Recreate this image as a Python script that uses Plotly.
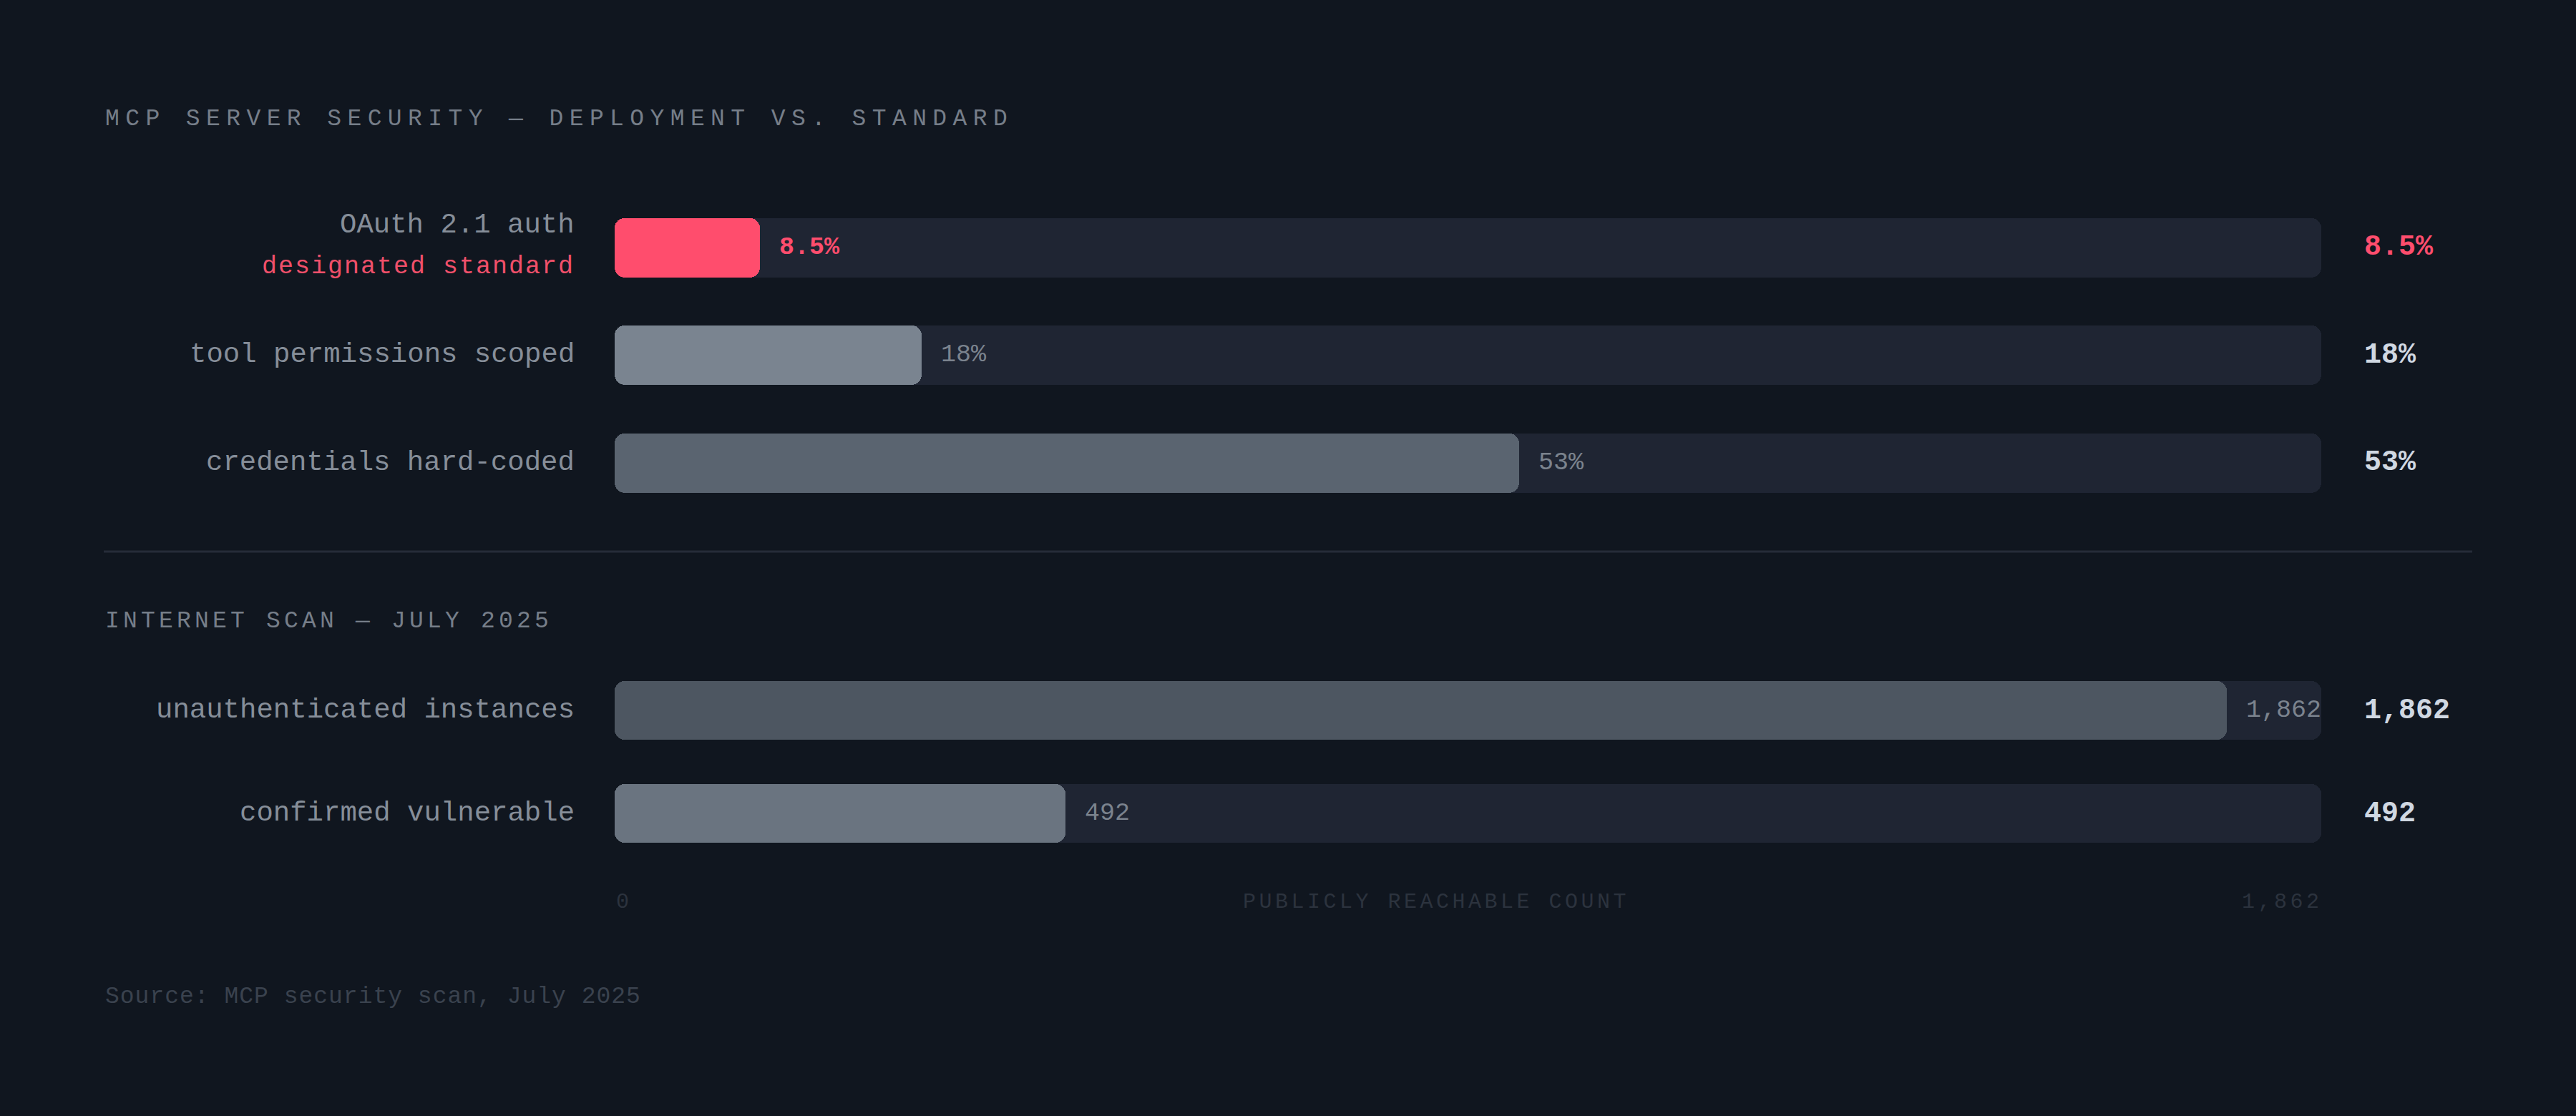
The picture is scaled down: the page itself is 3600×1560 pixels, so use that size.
import plotly.graph_objects as go

# --- data ---------------------------------------------------------------
pct_labels = ["OAuth 2.1 auth", "tool permissions scoped", "credentials hard-coded"]
pct_values = [8.5, 18, 53]
pct_text = ["8.5%", "18%", "53%"]

scan_labels = ["unauthenticated instances", "confirmed vulnerable"]
scan_values = [1862, 492]
scan_text = ["1,862", "492"]

PCT_MAX = 100
COUNT_MAX = 1862

# --- style --------------------------------------------------------------
W, H = 3600, 1560
BG = "#10161f"
TRACK = "#1f2533"
RED = "#ff4d6d"
FONT = "Liberation Mono, DejaVu Sans Mono, monospace"
pct_colors = [RED, "#7a8490", "#5a6470"]
scan_colors = ["#4d5661", "#6a7480"]

TRACK_X0, TRACK_X1 = 859, 3244  # px
LABEL_ROOM = 132  # px kept free at the track end for the in-bar label
LABEL_X = 805


def px(x):
    return x / W


def py(y):
    return 1 - y / H


def spaced(text, sp):
    return f'<span style="letter-spacing:{sp}px">{text}</span>'


fig = go.Figure()


def add_group(labels, values, colors, vmax, xa, ya, width):
    track_px = TRACK_X1 - TRACK_X0
    cap = vmax - LABEL_ROOM * vmax / track_px
    shown = [min(v, cap) for v in values]
    common = dict(y=labels, orientation="h", width=width, xaxis=xa, yaxis=ya,
                  base=0, hoverinfo="skip", showlegend=False)
    # an explicit base makes plotly round both ends of the bar
    fig.add_bar(x=[vmax] * len(labels),
                marker=dict(color=TRACK, cornerradius=14, line_width=0), **common)
    fig.add_bar(x=shown, marker=dict(color=colors, cornerradius=14, line_width=0), **common)
    return shown


pct_shown = add_group(pct_labels, pct_values, pct_colors, PCT_MAX, "x", "y", 0.551)
scan_shown = add_group(scan_labels, scan_values, scan_colors, COUNT_MAX, "x2", "y2", 0.576)

ann = []
label_font = dict(family=FONT, size=39, color="#868e99")
inner_font = dict(family=FONT, size=35, color="#7b838e")
value_font = dict(family=FONT, size=40, color="#d0d8e2", weight="bold")

for i, (lab, shown, txt) in enumerate(zip(pct_labels, pct_shown, pct_text)):
    is_std = i == 0
    if is_std:
        ann.append(dict(text=lab, x=px(LABEL_X), xref="paper", y=lab, yref="y", xanchor="right",
                        yanchor="middle", yshift=31, font=label_font))
        ann.append(dict(text=spaced("designated standard", 2), x=px(LABEL_X), xref="paper",
                        y=lab, yref="y", xanchor="right", yanchor="middle", yshift=-27,
                        font=dict(family=FONT, size=35, color="#f0506a")))
    else:
        ann.append(dict(text=lab, x=px(LABEL_X), xref="paper", y=lab, yref="y", xanchor="right",
                        yanchor="middle", font=label_font))
    f_in = dict(inner_font, color=RED, weight="bold") if is_std else inner_font
    ann.append(dict(text=txt, x=shown, xref="x", y=lab, yref="y", xanchor="left",
                    yanchor="middle", xshift=25, font=f_in))
    f_val = dict(value_font, color=RED) if is_std else value_font
    ann.append(dict(text=txt, x=px(3302), xref="paper", y=lab, yref="y", xanchor="left",
                    yanchor="middle", font=f_val))

for lab, shown, txt in zip(scan_labels, scan_shown, scan_text):
    ann.append(dict(text=lab, x=px(LABEL_X), xref="paper", y=lab, yref="y2", xanchor="right",
                    yanchor="middle", font=label_font))
    ann.append(dict(text=txt, x=shown, xref="x2", y=lab, yref="y2", xanchor="left",
                    yanchor="middle", xshift=25, font=inner_font))
    ann.append(dict(text=txt, x=px(3302), xref="paper", y=lab, yref="y2", xanchor="left",
                    yanchor="middle", font=value_font))

title_font = dict(family=FONT, size=33, color="#767e89")
ann.append(dict(text=spaced("MCP SERVER SECURITY — DEPLOYMENT VS. STANDARD", 8.4), x=px(145),
                xref="paper", y=py(167), yref="paper", xanchor="left", yanchor="middle",
                font=title_font))
ann.append(dict(text=spaced("INTERNET SCAN — JULY 2025", 5.2), x=px(145), xref="paper",
                y=py(868), yref="paper", xanchor="left", yanchor="middle", font=title_font))

axis_font = dict(family=FONT, size=30, color="#2c333e")
ann.append(dict(text=spaced("0", 4.5), x=0, xref="x2", y=py(1261), yref="paper",
                xanchor="left", yanchor="middle", font=axis_font))
ann.append(dict(text=spaced(f"{COUNT_MAX:,}", 4.5), x=COUNT_MAX, xref="x2", y=py(1261),
                yref="paper", xanchor="right", yanchor="middle", xshift=4, font=axis_font))
ann.append(dict(text=spaced("PUBLICLY REACHABLE COUNT", 4.5), x=px(2007), xref="paper",
                y=py(1261), yref="paper", xanchor="center", yanchor="middle", font=axis_font))
ann.append(dict(text=spaced("Source: MCP security scan, July 2025", 1), x=px(145), xref="paper",
                y=py(1393), yref="paper", xanchor="left", yanchor="middle",
                font=dict(family=FONT, size=33, color="#3a424e")))

for a in ann:
    a["showarrow"] = False

hidden = dict(visible=False, fixedrange=True)
fig.update_layout(
    width=W,
    height=H,
    margin=dict(l=0, r=0, t=0, b=0),
    paper_bgcolor=BG,
    plot_bgcolor=BG,
    barmode="overlay",
    bargap=0,
    annotations=ann,
    xaxis=dict(domain=[px(TRACK_X0), px(TRACK_X1)], range=[0, PCT_MAX], anchor="y", **hidden),
    yaxis=dict(domain=[py(722.25), py(270.75)], autorange="reversed", anchor="x", **hidden),
    xaxis2=dict(domain=[px(TRACK_X0), px(TRACK_X1)], range=[0, COUNT_MAX], anchor="y2", **hidden),
    yaxis2=dict(domain=[py(1209), py(921)], autorange="reversed", anchor="x2", **hidden),
    shapes=[dict(type="line", xref="paper", yref="paper", x0=px(145), x1=px(3455),
                 y0=py(771), y1=py(771), line=dict(color="#262c38", width=3))],
)

# page body has a default margin; drop it so the figure fills the window
fig.write_html("out.html", config={"displayModeBar": False},
               post_script="document.body.style.margin='0';"
               f"document.body.style.background='{BG}';")
